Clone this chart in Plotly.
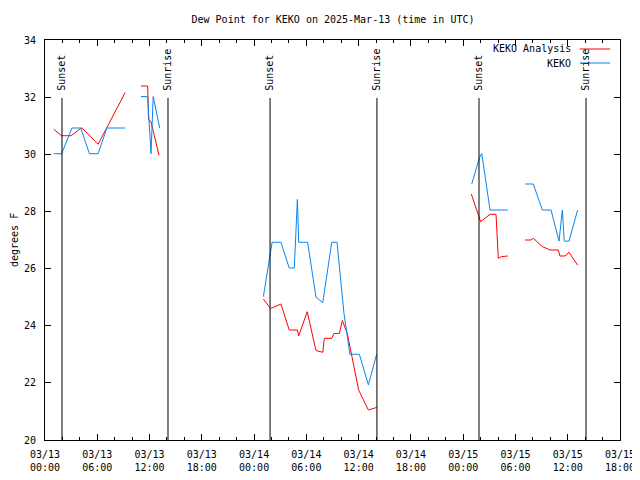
import plotly.graph_objects as go

# ---- data ----
red_time = ["2025-03-13 01:00", "2025-03-13 01:54", "2025-03-13 03:00", "2025-03-13 04:12", "2025-03-13 06:06", "2025-03-13 09:12", None,
            "2025-03-13 11:01", "2025-03-13 11:47", "2025-03-13 11:53", "2025-03-13 12:10", "2025-03-13 13:05", None,
            "2025-03-14 01:04", "2025-03-14 01:54", "2025-03-14 03:05", "2025-03-14 04:02", "2025-03-14 04:58", "2025-03-14 05:07",
            "2025-03-14 06:06", "2025-03-14 07:06", "2025-03-14 07:53", "2025-03-14 08:04", "2025-03-14 08:55", "2025-03-14 09:10",
            "2025-03-14 09:47", "2025-03-14 10:08", "2025-03-14 10:42", "2025-03-14 11:00", "2025-03-14 12:00", "2025-03-14 13:07",
            "2025-03-14 14:04", None,
            "2025-03-15 00:56", "2025-03-15 01:44", "2025-03-15 02:00", "2025-03-15 03:05", "2025-03-15 03:46", "2025-03-15 04:02",
            "2025-03-15 04:25", "2025-03-15 05:07", None,
            "2025-03-15 07:06", "2025-03-15 07:47", "2025-03-15 08:03", "2025-03-15 09:05", "2025-03-15 09:58", "2025-03-15 10:55",
            "2025-03-15 11:07", "2025-03-15 11:41", "2025-03-15 12:09", "2025-03-15 13:08"]
red_vals = [30.88, 30.65, 30.65, 30.93, 30.35, 32.16, None,
            32.39, 32.39, 31.2, 31.14, 29.97, None,
            24.93, 24.6, 24.76, 23.85, 23.85, 23.64,
            24.49, 23.13, 23.07, 23.56, 23.56, 23.73,
            23.73, 24.18, 23.73, 23.27, 21.75, 21.05,
            21.14, None,
            28.61, 27.93, 27.64, 27.9, 27.9, 26.36,
            26.42, 26.44, None,
            27.0, 27.0, 27.06, 26.77, 26.65, 26.65,
            26.44, 26.44, 26.57, 26.12]

blue_time = ["2025-03-13 01:00", "2025-03-13 01:54", "2025-03-13 03:06", "2025-03-13 04:06", "2025-03-13 05:06", "2025-03-13 06:06",
             "2025-03-13 07:06", "2025-03-13 09:12", None,
             "2025-03-13 11:01", "2025-03-13 11:47", "2025-03-13 12:10", "2025-03-13 12:25", "2025-03-13 13:10", None,
             "2025-03-14 01:04", "2025-03-14 02:04", "2025-03-14 03:05", "2025-03-14 04:02", "2025-03-14 04:37", "2025-03-14 04:44",
             "2025-03-14 04:58", "2025-03-14 05:04", "2025-03-14 05:07", "2025-03-14 06:09", "2025-03-14 07:06", "2025-03-14 07:53",
             "2025-03-14 08:55", "2025-03-14 09:31", "2025-03-14 10:19", "2025-03-14 11:00", "2025-03-14 12:05", "2025-03-14 13:07",
             "2025-03-14 14:04", None,
             "2025-03-15 00:59", "2025-03-15 01:28", "2025-03-15 01:51", "2025-03-15 02:08", "2025-03-15 03:05", "2025-03-15 05:07", None,
             "2025-03-15 07:06", "2025-03-15 08:03", "2025-03-15 09:05", "2025-03-15 10:05", "2025-03-15 11:00", "2025-03-15 11:23",
             "2025-03-15 11:36", "2025-03-15 12:09", "2025-03-15 13:08"]
blue_vals = [30.02, 30.02, 30.92, 30.92, 30.02, 30.02,
             30.92, 30.92, None,
             32.02, 32.02, 30.02, 32.02, 30.92, None,
             25.02, 26.92, 26.92, 26.02, 26.02, 26.92,
             28.42, 27.5, 26.92, 26.92, 25.0, 24.81,
             26.92, 26.92, 24.43, 23.0, 23.0, 21.93,
             23.0, None,
             28.96, 29.45, 29.86, 30.03, 28.05, 28.05, None,
             28.96, 28.96, 28.05, 28.05, 26.96, 28.05,
             26.96, 26.96, 28.05]

sun_times = ["2025-03-13 01:57", "2025-03-13 14:07", "2025-03-14 01:50", "2025-03-14 14:06", "2025-03-15 01:49", "2025-03-15 14:06"]
sun_labels = ["Sunset", "Sunrise", "Sunset", "Sunrise", "Sunset", "Sunrise"]

tick_vals = ["2025-03-13 00:00", "2025-03-13 06:00", "2025-03-13 12:00", "2025-03-13 18:00",
             "2025-03-14 00:00", "2025-03-14 06:00", "2025-03-14 12:00", "2025-03-14 18:00",
             "2025-03-15 00:00", "2025-03-15 06:00", "2025-03-15 12:00", "2025-03-15 18:00"]
tick_text = ["03/13<br>00:00", "03/13<br>06:00", "03/13<br>12:00", "03/13<br>18:00",
             "03/14<br>00:00", "03/14<br>06:00", "03/14<br>12:00", "03/14<br>18:00",
             "03/15<br>00:00", "03/15<br>06:00", "03/15<br>12:00", "03/15<br>18:00"]

RED = "#ff0000"
BLUE = "#0a84f0"
FONT = "DejaVu Sans Mono"

# page body has an 8px margin, so the figure is sized to fit inside the window
W, H = 632, 472
ML, MT, MR, MB = 37, 32, 20, 40
PW = W - ML - MR

fig = go.Figure()
fig.add_trace(go.Scatter(x=red_time, y=red_vals, mode="lines", line=dict(color=RED, width=1),
                         connectgaps=False, showlegend=False, name="KEKO Analysis"))
fig.add_trace(go.Scatter(x=blue_time, y=blue_vals, mode="lines", line=dict(color=BLUE, width=1),
                         connectgaps=False, showlegend=False, name="KEKO"))

shapes = []
annotations = []
for t, lab in zip(sun_times, sun_labels):
    shapes.append(dict(type="line", xref="x", yref="paper", x0=t, x1=t, y0=0, y1=0.855,
                       line=dict(color="black", width=1)))
    annotations.append(dict(x=t, y=0.868, xref="x", yref="paper", text=lab, textangle=-90,
                            showarrow=False, xanchor="center", yanchor="bottom",
                            font=dict(family=FONT, size=10, color="black")))

# manual legend (text left of sample)
legend_items = [("KEKO Analysis", RED, 0.9775), ("KEKO", BLUE, 0.9425)]
for lab, col, yy in legend_items:
    annotations.append(dict(x=0.918, y=yy, xref="paper", yref="paper", text=lab, showarrow=False,
                            xanchor="right", yanchor="middle", font=dict(family=FONT, size=10, color="black")))
    shapes.append(dict(type="line", xref="paper", yref="paper", x0=0.930, x1=0.983, y0=yy, y1=yy,
                       line=dict(color=col, width=1)))

# y-axis title as annotation
annotations.append(dict(x=(6 - ML) / PW, y=0.5, xref="paper", yref="paper", text="degrees F", textangle=-90,
                        showarrow=False, xanchor="center", yanchor="middle",
                        font=dict(family=FONT, size=10, color="black")))

fig.update_layout(
    width=W, height=H,
    margin=dict(l=ML, r=MR, t=MT, b=MB, autoexpand=False),
    paper_bgcolor="white", plot_bgcolor="white",
    font=dict(family=FONT, size=10, color="black"),
    title=dict(text="Dew Point for KEKO on 2025-Mar-13 (time in UTC)", x=325 / W, xanchor="center",
               y=1 - 11 / H, yanchor="middle", font=dict(family=FONT, size=10), automargin=False),
    shapes=shapes, annotations=annotations, showlegend=False,
)
fig.update_xaxes(type="date", range=["2025-03-13 00:00", "2025-03-15 18:00"],
                 tickvals=tick_vals, ticktext=tick_text, automargin=False,
                 showgrid=False, zeroline=False, showline=True, linecolor="black", linewidth=1,
                 mirror="allticks", ticks="inside", ticklen=6, tickcolor="black",
                 ticklabelstandoff=5,
                 minor=dict(ticks="inside", ticklen=3, dtick=7200000, tickcolor="black"),
                 tickfont=dict(family=FONT, size=10))
fig.update_yaxes(range=[20, 34], tickvals=[20, 22, 24, 26, 28, 30, 32, 34], automargin=False,
                 showgrid=False, zeroline=False, showline=True, linecolor="black", linewidth=1,
                 mirror="allticks", ticks="inside", ticklen=6, tickcolor="black",
                 ticklabelstandoff=6,
                 tickfont=dict(family=FONT, size=10))

fig.write_html("out.html")
